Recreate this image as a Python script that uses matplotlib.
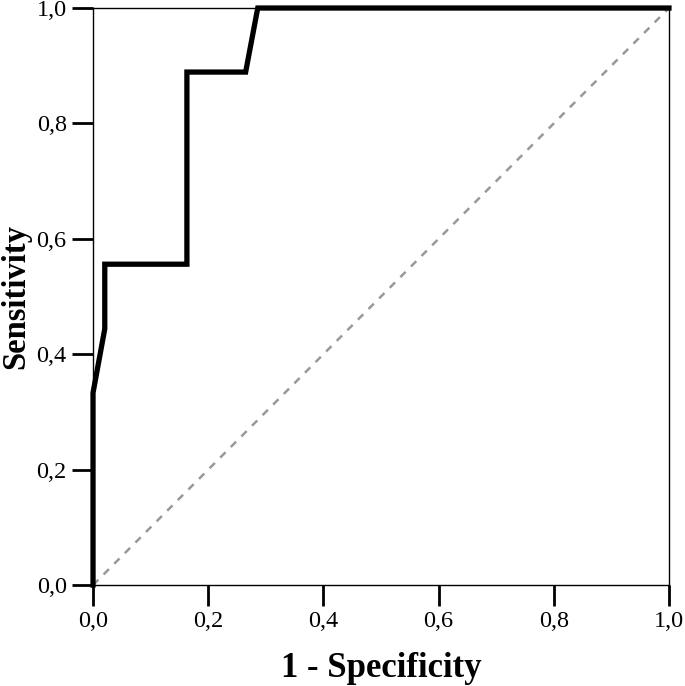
import matplotlib.pyplot as plt
from matplotlib.ticker import FuncFormatter

plt.rcParams['font.family'] = ['Liberation Serif', 'DejaVu Serif']

# ROC curve points
fpr = [0.0, 0.0, 0.0204, 0.0204, 0.163, 0.163, 0.265, 0.286, 1.0]
tpr = [0.0, 0.333, 0.444, 0.556, 0.556, 0.889, 0.889, 1.0, 1.0]
ref_line = [0.0, 1.0]
ticks = [0.0, 0.2, 0.4, 0.6, 0.8, 1.0]

fig = plt.figure(figsize=(6.85, 6.86), dpi=100)
ax = fig.add_axes([0.1358, 0.1472, 0.8408, 0.8411])

ax.plot(ref_line, ref_line, color='#999999', linestyle=(0, (3, 3)), linewidth=1.8)
ax.plot(fpr, tpr, color='black', linewidth=3.8, solid_joinstyle='miter', clip_on=False)

ax.set_xlim(0, 1)
ax.set_ylim(0, 1)
ax.set_xticks(ticks)
ax.set_yticks(ticks)
fmt = FuncFormatter(lambda v, p: f"{v:.1f}".replace('.', ','))
ax.xaxis.set_major_formatter(fmt)
ax.yaxis.set_major_formatter(fmt)
ax.tick_params(direction='out', length=15, width=2, labelsize=17.5, pad=4)
for s in ax.spines.values():
    s.set_linewidth(1.0)

ax.set_xlabel("1 - Specificity", fontsize=25, fontweight='bold')
ax.set_ylabel("Sensitivity", fontsize=23.5, fontweight='bold')
ax.xaxis.label.set_va('center')
ax.yaxis.label.set_va('center')
ax.xaxis.set_label_coords(0.5, -0.144)
ax.yaxis.set_label_coords(-0.134, 0.5)

plt.savefig("out.png", dpi=100)
plt.close()
